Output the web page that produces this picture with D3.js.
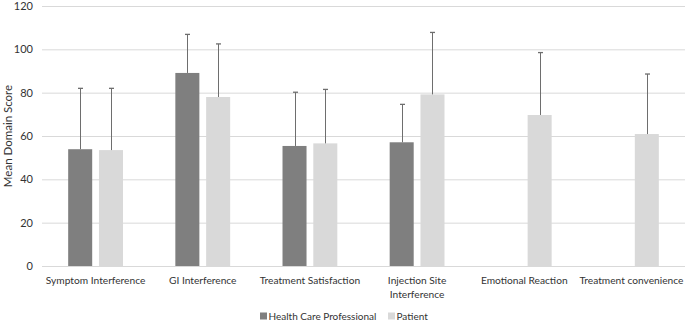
<!DOCTYPE html>
<html><head><meta charset="utf-8">
<script src="https://cdn.jsdelivr.net/npm/d3@7"></script>
<style>body{margin:0;background:#fff}svg{display:block}text{font-family:Lato,"Open Sans",sans-serif;fill:#333}</style>
</head><body><svg id="c" width="685" height="323"></svg>
<script>
const categories = ["Symptom Interference","GI Interference","Treatment Satisfaction","Injection Site\nInterference","Emotional Reaction","Treatment convenience"];
const seriesNames = ["Health Care Professional","Patient"];
const hcpMean = [53.9, 89.1, 55.4, 57.1, null, null];
const hcpErrTop = [82.0, 106.9, 80.2, 74.6, null, null];
const patMean = [53.5, 78.0, 56.6, 79.2, 69.7, 60.9];
const patErrTop = [82.0, 102.5, 81.5, 107.8, 98.5, 88.6];
const yTicks = [0,20,40,60,80,100,120];
const colors = ["#7f7f7f","#d9d9d9"];

const svg = d3.select("#c");
const m = {l:42, r:0, t:6, b:57};
const W = 685, H = 323;
const x = d3.scaleBand().domain(categories).range([m.l, W-m.r]);
const y = d3.scaleLinear().domain([0,120]).range([H-m.b, m.t]);
const xs = d3.scaleBand().domain(seriesNames).range([0, x.bandwidth()]).paddingInner(0.22).paddingOuter(0.85);

// grid
svg.append("g").selectAll("line").data(yTicks).join("line")
  .attr("x1", m.l).attr("x2", W).attr("y1", d=>y(d)+0.5).attr("y2", d=>y(d)+0.5)
  .attr("stroke", "#d9d9d9").attr("stroke-width",1);
const yAxis = svg.append("g").attr("transform",`translate(${m.l},0)`)
  .call(d3.axisLeft(y).tickValues(yTicks).tickSize(0).tickPadding(9));
yAxis.select(".domain").remove();
yAxis.selectAll("text").style("font-size","11px").style("font-family","Lato,sans-serif").attr("fill","#333");

const data = [];
categories.forEach((c,i)=>{
  [[hcpMean,hcpErrTop],[patMean,patErrTop]].forEach(([mv,ev],k)=>{
    if(mv[i]!=null) data.push({c, s:seriesNames[k], v:mv[i], e:ev[i], k});
  });
});
const g = svg.append("g");
g.selectAll("rect").data(data).join("rect")
  .attr("x", d=>x(d.c)+xs(d.s)).attr("width", xs.bandwidth())
  .attr("y", d=>y(d.v)).attr("height", d=>y(0)-y(d.v))
  .attr("fill", d=>colors[d.k]);
const cx = d=>Math.round(x(d.c)+xs(d.s)+xs.bandwidth()/2)+0.5;
const eb = g.selectAll("g.eb").data(data).join("g").attr("class","eb");
eb.append("line").attr("x1", cx).attr("x2", cx)
  .attr("y1", d=>y(d.v)).attr("y2", d=>y(d.e)).attr("stroke","#6e6e6e").attr("stroke-width",1);
eb.append("line").attr("x1", d=>cx(d)-2.5).attr("x2", d=>cx(d)+2.5)
  .attr("y1", d=>y(d.e)).attr("y2", d=>y(d.e)).attr("stroke","#6e6e6e").attr("stroke-width",1.3);

// x labels
const xl = svg.append("g").selectAll("text").data(categories).join("text")
  .attr("x", d=>x(d)+x.bandwidth()/2).attr("y", 284)
  .attr("text-anchor","middle").style("font-size","10.2px");
xl.each(function(d){
  const t = d3.select(this);
  d.split("\n").forEach((s,i)=>t.append("tspan").attr("x", x(d)+x.bandwidth()/2).attr("dy", i?13.5:0).text(s));
});

// y title
svg.append("text").attr("transform",`translate(12,${y(60)}) rotate(-90)`).attr("text-anchor","middle")
  .style("font-size","11.5px").text("Mean Domain Score");

// legend
const leg = svg.append("g").selectAll("g").data(seriesNames).join("g")
  .attr("transform",(d,i)=>`translate(${[260,388][i]},312.5)`);
leg.append("rect").attr("width",7).attr("height",7).attr("fill",(d,i)=>colors[i]);
leg.append("text").attr("x",8.5).attr("y",7.5).style("font-size","10px").text(d=>d);
</script></body></html>
